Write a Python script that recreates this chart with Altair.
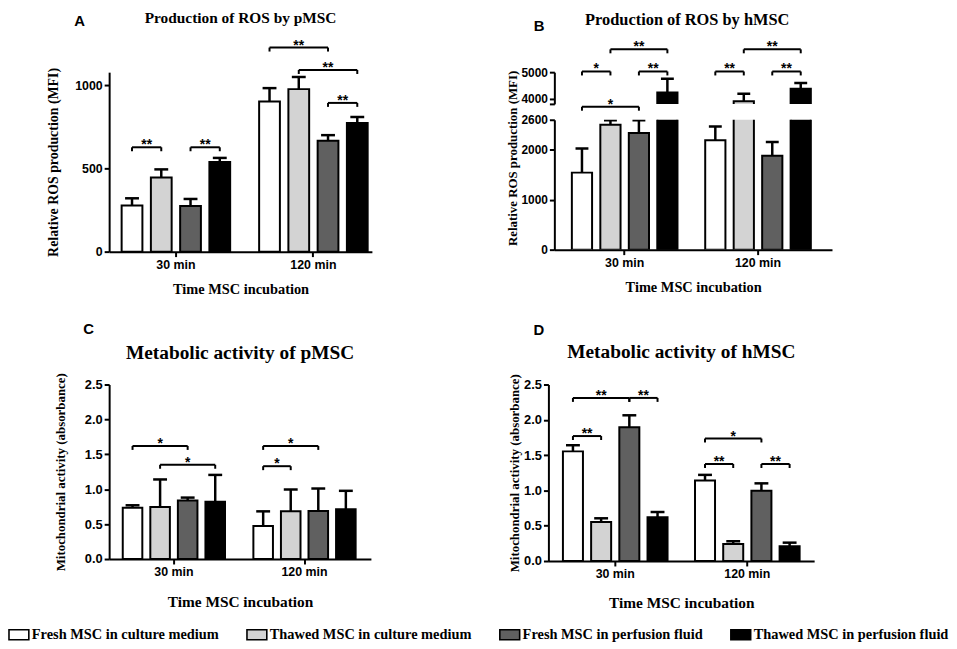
import altair as alt
import pandas as pd

SANS = "Liberation Sans"
SERIF = "Liberation Serif"

CONDITIONS = ["Fresh MSC in culture medium", "Thawed MSC in culture medium",
              "Fresh MSC in perfusion fluid", "Thawed MSC in perfusion fluid"]
GROUPS = ["30 min", "120 min"]
FILLS = ["#ffffff", "#d3d3d3", "#606060", "#000000"]

# ---- Panel A: ROS production, pMSC ----
A_MEAN = [277, 446, 275, 539, 903, 978, 667, 774]
A_UPPER = [321, 495, 317, 564, 984, 1051, 701, 810]
A_BR_GROUP = ["30 min", "30 min", "120 min", "120 min", "120 min"]
A_BR_FROM = [0, 2, 0, 1, 2]
A_BR_TO = [1, 3, 2, 3, 3]
A_BR_LEVEL = [628, 628, 1228, 1093, 895]
A_BR_LABEL = ["**", "**", "**", "**", "**"]
A_TICKS = [0, 500, 1000]

# ---- Panel B: ROS production, hMSC (broken axis) ----
B_MEAN = [1542, 2500, 2335, 4233, 2188, 3900, 1879, 4370]
B_UPPER = [2024, 2590, 2590, 4752, 2466, 4185, 2156, 4593]
B_BR_GROUP = ["30 min", "30 min", "30 min", "30 min", "120 min", "120 min", "120 min"]
B_BR_FROM = [0, 2, 1, 0, 0, 2, 1]
B_BR_TO = [1, 3, 3, 2, 1, 3, 3]
B_BR_LEVEL = [5026, 5026, 5863, 3693, 5026, 5026, 5863]
B_BR_LABEL = ["*", "**", "**", "*", "**", "**", "**"]
B_TICKS_LOW = [0, 1000, 2000, 2600]
B_TICKS_HIGH = [3800, 4000, 5000]

# ---- Panel C: metabolic activity, pMSC ----
C_MEAN = [0.735, 0.745, 0.84, 0.82, 0.474, 0.683, 0.688, 0.712]
C_UPPER = [0.77, 1.14, 0.88, 1.205, 0.683, 0.996, 1.01, 0.977]
C_BR_GROUP = ["30 min", "30 min", "120 min", "120 min"]
C_BR_FROM = [0, 1, 0, 0]
C_BR_TO = [2, 3, 2, 1]
C_BR_LEVEL = [1.62, 1.35, 1.62, 1.33]
C_BR_LABEL = ["*", "*", "*", "*"]

# ---- Panel D: metabolic activity, hMSC ----
D_MEAN = [1.553, 0.553, 1.895, 0.619, 1.14, 0.24, 0.994, 0.21]
D_UPPER = [1.64, 0.605, 2.064, 0.694, 1.22, 0.28, 1.10, 0.26]
D_BR_GROUP = ["30 min", "30 min", "30 min", "120 min", "120 min", "120 min"]
D_BR_FROM = [0, 2, 0, 0, 0, 2]
D_BR_TO = [2, 3, 1, 2, 1, 3]
D_BR_LEVEL = [2.31, 2.31, 1.77, 1.735, 1.374, 1.374]
D_BR_LABEL = ["**", "**", "**", "*", "**", "**"]
CD_TICKS = [0, 0.5, 1.0, 1.5, 2.0, 2.5]

# slots: bar centres and the midpoints between neighbouring bars
MIDS = []
for i in range(7):
    if i % 2 == 0:
        MIDS.append(CONDITIONS[i // 2])
    else:
        MIDS.append(CONDITIONS[i // 2] + " / " + CONDITIONS[i // 2 + 1])


def bar_table(mean, upper):
    rows = []
    for k, (m, u) in enumerate(zip(mean, upper)):
        rows.append({"group": GROUPS[k // 4], "cond": CONDITIONS[k % 4], "value": m, "upper": u})
    return pd.DataFrame(rows)


def bracket_tables(groups, frm, to, levels, labels):
    ends, texts = [], []
    for i, (g, a, b, lv, lab) in enumerate(zip(groups, frm, to, levels, labels)):
        for c in (a, b):
            ends.append({"id": i, "group": g, "cond": CONDITIONS[c], "level": lv})
        texts.append({"group": g, "mid": MIDS[a + b], "level": lv, "label": lab})
    return pd.DataFrame(ends), pd.DataFrame(texts)


LEGEND = alt.Legend(title=None, orient="none", legendX=-102, legendY=556, direction="horizontal",
                    symbolType="M-1,-0.5H1V0.5H-1Z", symbolSize=400, symbolStrokeColor="black",
                    symbolStrokeWidth=1.6, labelFont=SERIF, labelFontWeight="bold",
                    labelFontSize=14.5, labelColor="black", labelLimit=400,
                    columnPadding=24, labelOffset=2)
OFF_SCALE = alt.Scale(type="band", domain=CONDITIONS, paddingInner=0.29, paddingOuter=0.145)
MID_SCALE = alt.Scale(type="band", domain=MIDS, paddingInner=0, paddingOuter=0.5)


def x_axis(title_pad, title_size):
    return alt.Axis(title="Time MSC incubation", labelAngle=0, labelFont=SANS, labelFontWeight="bold",
                    labelFontSize=12.5, labelColor="black", labelPadding=2, titleFont=SERIF,
                    titleFontWeight="bold", titleFontSize=title_size, titleColor="black",
                    titlePadding=title_pad, domainColor="black", domainWidth=2, tickColor="black",
                    tickWidth=2, tickSize=5, grid=False)


def y_axis(values, title, title_pad, label_size=12.5, title_size=14, fmt="d", title_y=None,
           label_expr=None):
    kw = dict(values=values, title=title, format=fmt, labelFont=SANS, labelFontWeight="bold",
              labelFontSize=label_size, labelColor="black", labelPadding=2, titleFont=SERIF,
              titleFontWeight="bold", titleFontSize=title_size, titleColor="black",
              titlePadding=title_pad, domainColor="black", domainWidth=2, tickColor="black",
              tickWidth=2, tickSize=5, grid=False)
    if title_y is not None:
        kw["titleY"] = title_y
    if label_expr is not None:
        kw["labelExpr"] = label_expr
    return alt.Axis(**kw)


def panel(bars, brackets, xscale, xaxis, ydomain, yaxis, cap, clip, width, height, title=None):
    X = alt.X("group:N", scale=xscale, axis=xaxis)
    ysc = alt.Scale(domain=ydomain, nice=False, zero=False)

    def Y(f):
        return alt.Y(f"{f}:Q", scale=ysc, axis=yaxis)

    XO = alt.XOffset("cond:N", scale=OFF_SCALE)
    fill = alt.Fill("cond:N", scale=alt.Scale(domain=CONDITIONS, range=FILLS), legend=LEGEND)
    base = alt.Chart(bars)
    layers = [
        base.mark_bar(stroke="black", strokeWidth=2, clip=clip).encode(
            x=X, xOffset=XO, y=Y("value"), y2=alt.datum(0), fill=fill),
        base.mark_rule(color="black", strokeWidth=2.5, clip=clip).encode(
            x=X, xOffset=XO, y=Y("value"), y2="upper:Q"),
        base.mark_tick(color="black", thickness=2.5, size=cap, clip=clip, opacity=1).encode(
            x=X, xOffset=XO, y=Y("upper")),
    ]
    if brackets is not None:
        ends, texts = brackets
        layers += [
            alt.Chart(ends).mark_line(color="black", strokeWidth=2).encode(
                x=X, xOffset=XO, y=Y("level"), detail="id:N"),
            alt.Chart(ends).mark_rule(color="black", strokeWidth=2, y2Offset=4).encode(
                x=X, xOffset=XO, y=Y("level"), y2="level:Q"),
            alt.Chart(texts).mark_text(font=SANS, fontWeight="bold", fontSize=14, dy=2,
                                       baseline="alphabetic", color="black").encode(
                x=X, xOffset=alt.XOffset("mid:N", scale=MID_SCALE), y=Y("level"), text="label:N"),
        ]
    ch = alt.layer(*layers).resolve_scale(xOffset="independent")
    props = dict(width=width, height=height)
    if title is not None:
        props["title"] = title
    return ch.properties(**props)


def main_title(text, size, offset, dx=0):
    return alt.TitleParams(text, font=SERIF, fontSize=size, fontWeight="bold", color="black",
                           anchor="middle", frame="group", offset=offset, dx=dx)


def letter(text, dx, offset):
    return alt.TitleParams(text, font=SANS, fontSize=15, fontWeight="bold", color="black",
                           anchor="start", frame="bounds", dx=dx, offset=offset)


# ---- A ----
xA = alt.Scale(domain=GROUPS, paddingInner=0.149, paddingOuter=0.03, align=1)
pA = panel(bar_table(A_MEAN, A_UPPER),
           bracket_tables(A_BR_GROUP, A_BR_FROM, A_BR_TO, A_BR_LEVEL, A_BR_LABEL),
           xA, x_axis(12, 14.5), [0, 1080],
           y_axis(A_TICKS, "Relative ROS production (MFI)", 14.5), 14, False, 265, 181,
           main_title("Production of ROS by pMSC", 15.5, 12))
wA = alt.vconcat(pA, title=letter("A", 28, -18))

# ---- B ----
xB = alt.Scale(domain=GROUPS, paddingInner=0.146, paddingOuter=0.114, align=0.44)
barsB = bar_table(B_MEAN, B_UPPER)
pB_top = panel(barsB,
               bracket_tables(B_BR_GROUP, B_BR_FROM, B_BR_TO, B_BR_LEVEL, B_BR_LABEL),
               xB, None, [3800, 5000],
               y_axis(B_TICKS_HIGH, None, 1.5, label_size=12,
                      label_expr="datum.value < 3900 ? '' : datum.label"),
               13, True, 280, 32, main_title("Production of ROS by hMSC", 16.5, 12, dx=-6))
pB_low = panel(barsB, None, xB, x_axis(12, 14.5), [0, 2600],
               y_axis(B_TICKS_LOW, "Relative ROS production (MFI)", 1.5, label_size=12,
                      title_size=13, title_y=38.5),
               13, True, 280, 131)
wB = alt.vconcat(pB_top, pB_low, spacing=16, bounds="flush", title=letter("B", 27.5, -21.5))

# ---- C ----
xC = alt.Scale(domain=GROUPS, paddingInner=0.156, paddingOuter=0.08, align=0.46)
pC = panel(bar_table(C_MEAN, C_UPPER),
           bracket_tables(C_BR_GROUP, C_BR_FROM, C_BR_TO, C_BR_LEVEL, C_BR_LABEL),
           xC, x_axis(16, 15.5), [0, 2.5],
           y_axis(CD_TICKS, "Mitochondrial activity (absorbance)", 17, label_size=13,
                  title_size=13, fmt=".1f"),
           14, False, 264, 176, main_title("Metabolic activity of pMSC", 19.5, 9))
wC = alt.vconcat(pC, title=letter("C", 29, 6))

# ---- D ----
xD = alt.Scale(domain=GROUPS, paddingInner=0.146, paddingOuter=0.079, align=0.5)
pD = panel(bar_table(D_MEAN, D_UPPER),
           bracket_tables(D_BR_GROUP, D_BR_FROM, D_BR_TO, D_BR_LEVEL, D_BR_LABEL),
           xD, x_axis(15, 15.5), [0, 2.5],
           y_axis(CD_TICKS, "Mitochondrial activity (absorbance)", 2, label_size=13,
                  title_size=13, fmt=".1f"),
           14, False, 268, 178, main_title("Metabolic activity of hMSC", 19.5, 11))
wD = alt.vconcat(pD, title=letter("D", 25, 4))

row1 = alt.hconcat(wA, wB, spacing=135)
row2 = alt.hconcat(wC, wD, spacing=138)
chart = (alt.vconcat(row1, row2, spacing=26)
         .properties(padding=0, background="white")
         .configure_view(stroke=None))

chart.save("out.html", embed_options={"renderer": "svg", "actions": False})
